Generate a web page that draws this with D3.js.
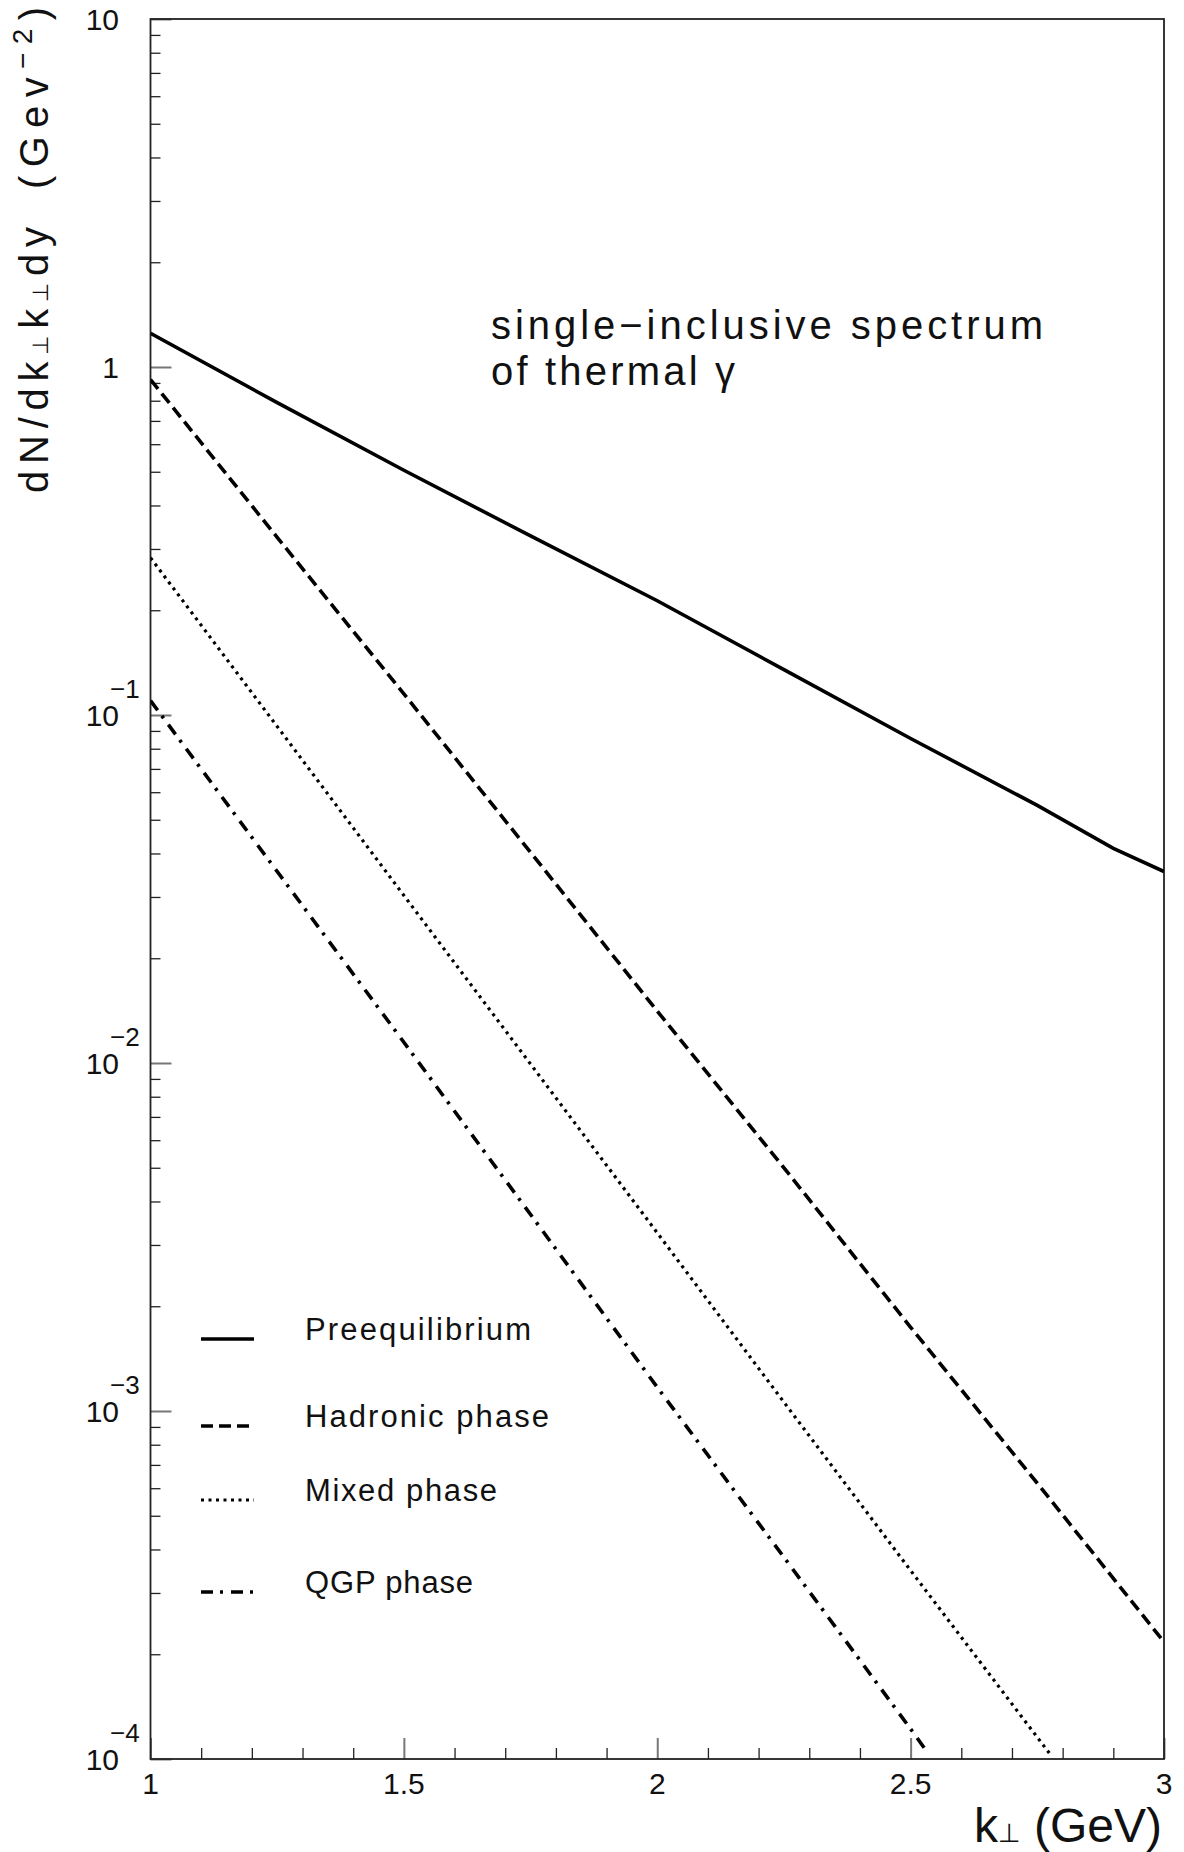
<!DOCTYPE html>
<html>
<head>
<meta charset="utf-8">
<script src="https://cdn.jsdelivr.net/npm/d3@7"></script>
<style>
  html, body { margin: 0; padding: 0; background: #fff; }
  svg { display: block; }
  text { font-family: "Liberation Sans", "DejaVu Sans", sans-serif; fill: #111; }
</style>
</head>
<body>
<svg id="chart" width="1184" height="1852"></svg>
<script>
// ---- data ----
const preK = [1.0, 1.25, 1.5, 1.75, 2.0, 2.25, 2.5, 2.75, 2.9, 3.0];
const preV = [1.25, 0.79, 0.505, 0.327, 0.213, 0.135, 0.0856, 0.055, 0.0414, 0.0355];

const hadK = [1.0, 1.25, 1.5, 1.75, 2.0, 2.25, 2.5, 2.75, 3.0];
const hadV = [0.92, 0.324, 0.115, 0.0403, 0.0141, 0.0050, 0.00174, 0.00062, 0.000217];

const mixK = [1.0, 1.25, 1.5, 1.75, 2.0, 2.25, 2.5, 2.778];
const mixV = [0.283, 0.0927, 0.0303, 0.00993, 0.00325, 0.00106, 0.000348, 0.000102];

const qgpK = [1.0, 1.25, 1.5, 1.75, 2.0, 2.25, 2.5, 2.532];
const qgpV = [0.110, 0.0355, 0.01147, 0.00367, 0.00117, 0.00038, 0.000122, 0.000105];

const seriesNames = ["Preequilibrium", "Hadronic phase", "Mixed phase", "QGP phase"];

const xMajorTicks = [1, 1.5, 2, 2.5, 3];
const xTickLabels = ["1", "1.5", "2", "2.5", "3"];
const yExponents = [1, 0, -1, -2, -3, -4];

// ---- layout ----
const L = 150.5, T = 19, R = 1164, B = 1759;
const svg = d3.select("#chart");

const x = d3.scaleLinear().domain([1, 3]).range([L, R]);
const y = d3.scaleLog().domain([1e-4, 10]).range([B, T]);

svg.append("defs").append("clipPath").attr("id", "clip")
  .append("rect").attr("x", L).attr("y", T).attr("width", R - L).attr("height", B - T);

// ---- ticks ----
const xMinor = d3.range(10, 31).map(v => v / 10).filter(v => !xMajorTicks.some(m => Math.abs(m - v) < 1e-9));
svg.append("g").attr("transform", `translate(0,${B})`)
  .call(d3.axisBottom(x).tickValues(xMinor).tickSize(-11).tickFormat(""))
  .call(g => g.select(".domain").remove())
  .call(g => g.selectAll("line").attr("stroke", "#222").attr("stroke-width", 1.3));
svg.append("g").attr("transform", `translate(0,${B})`)
  .call(d3.axisBottom(x).tickValues(xMajorTicks).tickSize(-21).tickFormat(""))
  .call(g => g.select(".domain").remove())
  .call(g => g.selectAll("line").attr("stroke", "#777").attr("stroke-width", 2));

const yMinor = [];
for (let e = -4; e < 1; e++) for (let m = 2; m <= 9; m++) yMinor.push(m * Math.pow(10, e));
svg.append("g").attr("transform", `translate(${L},0)`)
  .call(d3.axisLeft(y).tickValues(yMinor).tickSize(-10).tickFormat(""))
  .call(g => g.select(".domain").remove())
  .call(g => g.selectAll("line").attr("stroke", "#222").attr("stroke-width", 1.3));
svg.append("g").attr("transform", `translate(${L},0)`)
  .call(d3.axisLeft(y).tickValues(yExponents.map(e => Math.pow(10, e))).tickSize(-21).tickFormat(""))
  .call(g => g.select(".domain").remove())
  .call(g => g.selectAll("line").attr("stroke", "#777").attr("stroke-width", 2));

// frame
svg.append("rect").attr("x", L).attr("y", T).attr("width", R - L).attr("height", B - T)
  .attr("fill", "none").attr("stroke", "#222").attr("stroke-width", 1.8);

// ---- tick labels ----
svg.append("g").selectAll("text").data(xMajorTicks).join("text")
  .attr("x", d => x(d)).attr("y", 1794)
  .attr("text-anchor", "middle").attr("font-size", 30)
  .text((d, i) => xTickLabels[i]);

const yl = svg.append("g");
yExponents.forEach(e => {
  const yy = y(Math.pow(10, e));
  if (e === 0) {
    yl.append("text").attr("x", 119).attr("y", yy + 11).attr("text-anchor", "end")
      .attr("font-size", 30).text("1");
  } else {
    yl.append("text").attr("x", 119).attr("y", yy + 11).attr("text-anchor", "end")
      .attr("font-size", 30).text("10");
    if (e !== 1) {
      yl.append("text").attr("x", 110).attr("y", yy - 17).attr("text-anchor", "start")
        .attr("font-size", 26).text("\u2212" + Math.abs(e));
    }
  }
});

// ---- curves ----
const line = d3.line().x(d => x(d[0])).y(d => y(d[1]));
const series = [
  { k: preK, v: preV, dash: null, w: 3.6 },
  { k: hadK, v: hadV, dash: "12,6", w: 3.6 },
  { k: mixK, v: mixV, dash: "3,4.5", w: 3.2 },
  { k: qgpK, v: qgpV, dash: "12,7,3,8", w: 3.6 }
];
const cg = svg.append("g").attr("clip-path", "url(#clip)");
series.forEach(s => {
  cg.append("path").datum(d3.zip(s.k, s.v))
    .attr("d", line).attr("fill", "none").attr("stroke", "#000")
    .attr("stroke-width", s.w).attr("stroke-dasharray", s.dash);
});

// ---- legend ----
const legY = [1339, 1426, 1500, 1592];
const legW = [226, 244, 192, 168];
const lg = svg.append("g");
series.forEach((s, i) => {
  lg.append("line").attr("x1", 201).attr("x2", 254).attr("y1", legY[i]).attr("y2", legY[i])
    .attr("stroke", "#000").attr("stroke-width", s.w).attr("stroke-dasharray", s.dash);
  lg.append("text").attr("x", 305).attr("y", legY[i] + 1).attr("font-size", 31)
    .attr("textLength", legW[i]).attr("lengthAdjust", "spacing")
    .text(seriesNames[i]);
});

// ---- annotation ----
svg.append("text").attr("x", 491).attr("y", 339).attr("font-size", 40)
  .attr("textLength", 552).attr("lengthAdjust", "spacing")
  .text("single\u2212inclusive spectrum");
svg.append("text").attr("x", 491).attr("y", 385).attr("font-size", 40)
  .attr("textLength", 244).attr("lengthAdjust", "spacing")
  .text("of thermal \u03B3");

// ---- axis titles ----
const xt = svg.append("text").attr("x", 1162).attr("y", 1842).attr("text-anchor", "end").attr("font-size", 48);
xt.append("tspan").text("k");
xt.append("tspan").attr("font-size", 26).text("\u22A5");
xt.append("tspan").text(" (GeV)");

const yt1 = svg.append("text").attr("transform", "translate(48,493) rotate(-90)").attr("font-size", 40)
  .attr("textLength", 266).attr("lengthAdjust", "spacing");
yt1.append("tspan").text("dN/dk");
yt1.append("tspan").attr("font-size", 22).text("\u22A5");
yt1.append("tspan").text("k");
yt1.append("tspan").attr("font-size", 22).text("\u22A5");
yt1.append("tspan").text("dy");

const yt2 = svg.append("text").attr("transform", "translate(48,189) rotate(-90)").attr("font-size", 40)
  .attr("textLength", 182).attr("lengthAdjust", "spacing");
yt2.append("tspan").text("(Gev");
yt2.append("tspan").attr("font-size", 28).attr("dy", -16).text("\u22122");
yt2.append("tspan").attr("dy", 16).text(")");
</script>
</body>
</html>
